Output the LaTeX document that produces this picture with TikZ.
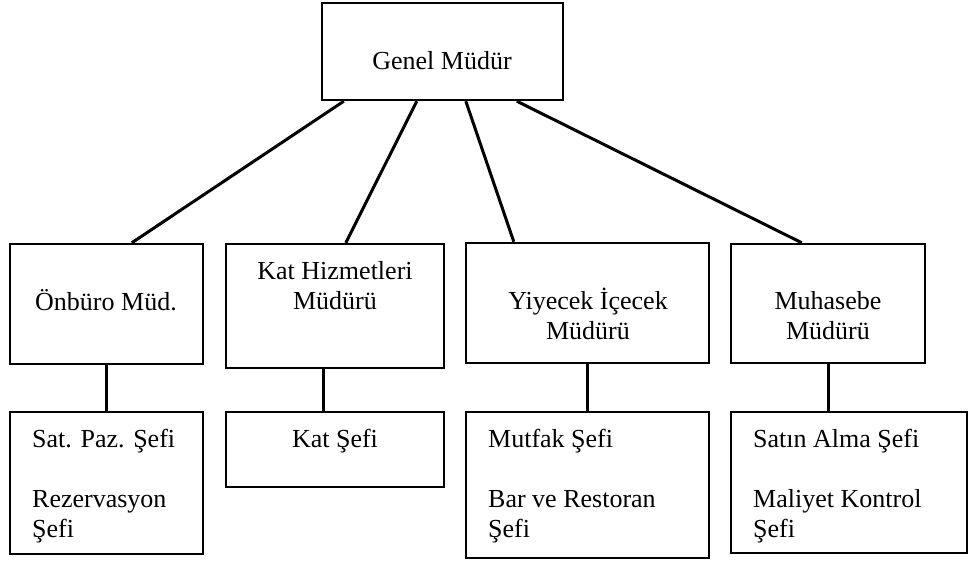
\documentclass[tikz,border=0pt]{standalone}
\usepackage{fontspec}
\setmainfont{Liberation Serif}
\tikzset{
  box/.style={draw, rectangle, line width=2.4pt, inner sep=0pt},
  lbl/.style={font=\fontsize{26}{30}\selectfont, inner sep=0pt}
}
\begin{document}
\begin{tikzpicture}[x=1pt, y=-1pt]
      \useasboundingbox (0,0) rectangle (969,561);
      % boxes
      \draw
        (442.5,51.5) node[box, minimum width=241pt, minimum height=97pt] (gm){}
        (106.5,304) node[box, minimum width=193pt, minimum height=120pt] (on){}
        (335,306) node[box, minimum width=218pt, minimum height=124pt] (kh){}
        (587.5,303) node[box, minimum width=243pt, minimum height=120pt] (yi){}
        (828,303.5) node[box, minimum width=194pt, minimum height=119pt] (mu){}
        (106.5,483) node[box, minimum width=193pt, minimum height=142pt] (sp){}
        (335,449.5) node[box, minimum width=218pt, minimum height=75pt] (ks){}
        (587.5,485) node[box, minimum width=243pt, minimum height=146pt] (mk){}
        (849,482.5) node[box, minimum width=236pt, minimum height=141pt] (sa){};
      % texts (base = last line)
      \draw
        (442,70) node[lbl, anchor=base] (gmt){Genel Müdür}
        (106,310) node[lbl, anchor=base] (ont){Önbüro Müd.}
        (335,309) node[lbl, anchor=base, align=center] (kht){Kat Hizmetleri\\Müdürü}
        (588,339) node[lbl, anchor=base, align=center] (yit){Yiyecek İçecek\\Müdürü}
        (828,339) node[lbl, anchor=base, align=center] (mut){Muhasebe\\Müdürü}
        (32,537) node[lbl, anchor=base west, align=left] (spt){Sat. Paz. Şefi\\[30pt]Rezervasyon\\Şefi}
        (335,447) node[lbl, anchor=base] (kst){Kat Şefi}
        (488,537) node[lbl, anchor=base west, align=left] (mkt){Mutfak Şefi\\[30pt]Bar ve Restoran\\Şefi}
        (753,537) node[lbl, anchor=base west, align=left] (sat){Satın Alma Şefi\\[30pt]Maliyet Kontrol\\Şefi};
      \begin{scope}[-, line width=3pt]
        \draw ([xshift=23pt]gm.south west) to ([xshift=123pt]on.north west);
        \draw ([xshift=96pt]gm.south west) to ([xshift=121pt]kh.north west);
        \draw ([xshift=145pt]gm.south west) to ([xshift=49pt]yi.north west);
        \draw ([xshift=196pt]gm.south west) to ([xshift=72pt]mu.north west);
        \draw (on.south) to (on.south |- sp.north);
        \draw ([xshift=-12pt]kh.south) to ([xshift=-12pt]kh.south |- ks.north);
        \draw (yi.south) to (yi.south |- mk.north);
        \draw (mu.south) to (mu.south |- sa.north);
      \end{scope}
    \end{tikzpicture}
\end{document}
